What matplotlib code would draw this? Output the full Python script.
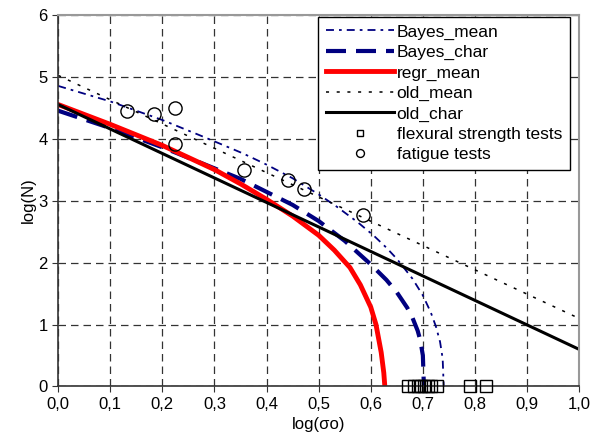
import matplotlib
matplotlib.use("Agg")
import matplotlib.pyplot as plt

plt.rcParams['font.family'] = ['Liberation Sans', 'DejaVu Sans']

# ---- data ----
bayes_mean_x = [0.0, 0.10, 0.20, 0.27, 0.31, 0.355, 0.40, 0.45, 0.50, 0.535, 0.575,
                0.605, 0.63, 0.65, 0.68, 0.70, 0.715, 0.725, 0.733, 0.738, 0.740]
bayes_mean_y = [4.85, 4.60, 4.30, 4.06, 3.92, 3.76, 3.58, 3.36, 3.10, 2.90, 2.65,
                2.44, 2.24, 2.06, 1.74, 1.47, 1.20, 0.97, 0.72, 0.45, 0.0]

bayes_char_x = [0.0, 0.10, 0.20, 0.30, 0.35, 0.40, 0.45, 0.50, 0.55, 0.60, 0.63,
                0.65, 0.67, 0.68, 0.69, 0.695, 0.700, 0.702]
bayes_char_y = [4.45, 4.17, 3.86, 3.52, 3.35, 3.14, 2.93, 2.67, 2.35, 1.97, 1.72,
                1.52, 1.27, 1.11, 0.90, 0.75, 0.50, 0.0]

regr_mean_x = [0.0, 0.10, 0.20, 0.30, 0.35, 0.40, 0.45, 0.50, 0.53, 0.56, 0.58,
               0.60, 0.61, 0.62, 0.625, 0.627]
regr_mean_y = [4.55, 4.23, 3.89, 3.50, 3.27, 3.02, 2.75, 2.44, 2.20, 1.92, 1.64,
               1.28, 1.00, 0.55, 0.22, 0.0]

old_mean_x = [0.0, 1.02]
old_mean_y = [5.02, 1.02]

old_char_x = [0.0, 1.02]
old_char_y = [4.55, 0.52]

flex_x = [0.671, 0.683, 0.690, 0.697, 0.703, 0.709, 0.716, 0.728, 0.791, 0.822]
flex_y = [0.0] * len(flex_x)

fatigue_x = [0.132, 0.184, 0.224, 0.224, 0.356, 0.441, 0.472, 0.585]
fatigue_y = [4.45, 4.39, 4.50, 3.91, 3.49, 3.33, 3.18, 2.77]

x_ticks = [0.0, 0.1, 0.2, 0.3, 0.4, 0.5, 0.6, 0.7, 0.8, 0.9, 1.0]
x_tick_labels = ["0,0", "0,1", "0,2", "0,3", "0,4", "0,5", "0,6", "0,7", "0,8", "0,9", "1,0"]
y_ticks = [0, 1, 2, 3, 4, 5, 6]

# ---- figure ----
fig = plt.figure(figsize=(5.94, 4.45), dpi=100)
ax = fig.add_axes([0.098, 0.1315, 0.877, 0.8355])

ax.set_xlim(0, 1.0)
ax.set_ylim(0, 6)

ax.set_xticks(x_ticks)
ax.set_xticklabels(x_tick_labels)
ax.set_yticks(y_ticks)

ax.grid(True, color='#333333', linestyle=(0, (6, 4)), linewidth=0.9)
ax.set_axisbelow(True)

ax.plot(bayes_mean_x, bayes_mean_y, color='#000080', lw=1.3,
        linestyle=(0, (4.4, 2.8, 1.5, 2.8)), label='Bayes_mean', clip_on=False)
ax.plot(bayes_char_x, bayes_char_y, color='#000080', lw=3.0,
        linestyle=(0, (4.8, 2.4)), label='Bayes_char')
ax.plot(regr_mean_x, regr_mean_y, color='#ff0000', lw=3.5, label='regr_mean')
ax.plot(old_mean_x, old_mean_y, color='black', lw=1.1,
        linestyle=(0, (2, 5)), label='old_mean')
ax.plot(old_char_x, old_char_y, color='black', lw=2.2, label='old_char')
ax.plot(flex_x, flex_y, linestyle='none', marker='s', markersize=8,
        markerfacecolor='none', markeredgecolor='black', markeredgewidth=1.0,
        label='flexural strength tests', clip_on=False, zorder=5)
ax.plot(fatigue_x, fatigue_y, linestyle='none', marker='o', markersize=9.5,
        markerfacecolor='none', markeredgecolor='black', markeredgewidth=1.0,
        label='fatigue tests', zorder=5)

for s in ['top', 'right']:
    ax.spines[s].set_color('#999999')
    ax.spines[s].set_linewidth(1.5)
for s in ['left', 'bottom']:
    ax.spines[s].set_color('#333333')
    ax.spines[s].set_linewidth(1.2)

ax.tick_params(axis='both', labelsize=12, direction='out', length=4, color='#333333')

ax.set_xlabel('log(σo)', fontsize=12, labelpad=4)
ax.set_ylabel('log(N)', fontsize=12, labelpad=2)

leg = ax.legend(loc='upper right', bbox_to_anchor=(0.982, 0.995), borderaxespad=0,
                fontsize=12.5, frameon=True, fancybox=False, shadow=False,
                handlelength=3.9, handletextpad=0.15, labelspacing=0.3,
                borderpad=0.45, framealpha=1, markerscale=0.6)
leg.get_frame().set_edgecolor('black')
leg.get_frame().set_linewidth(1.0)

fig.savefig('out.png', dpi=100)
